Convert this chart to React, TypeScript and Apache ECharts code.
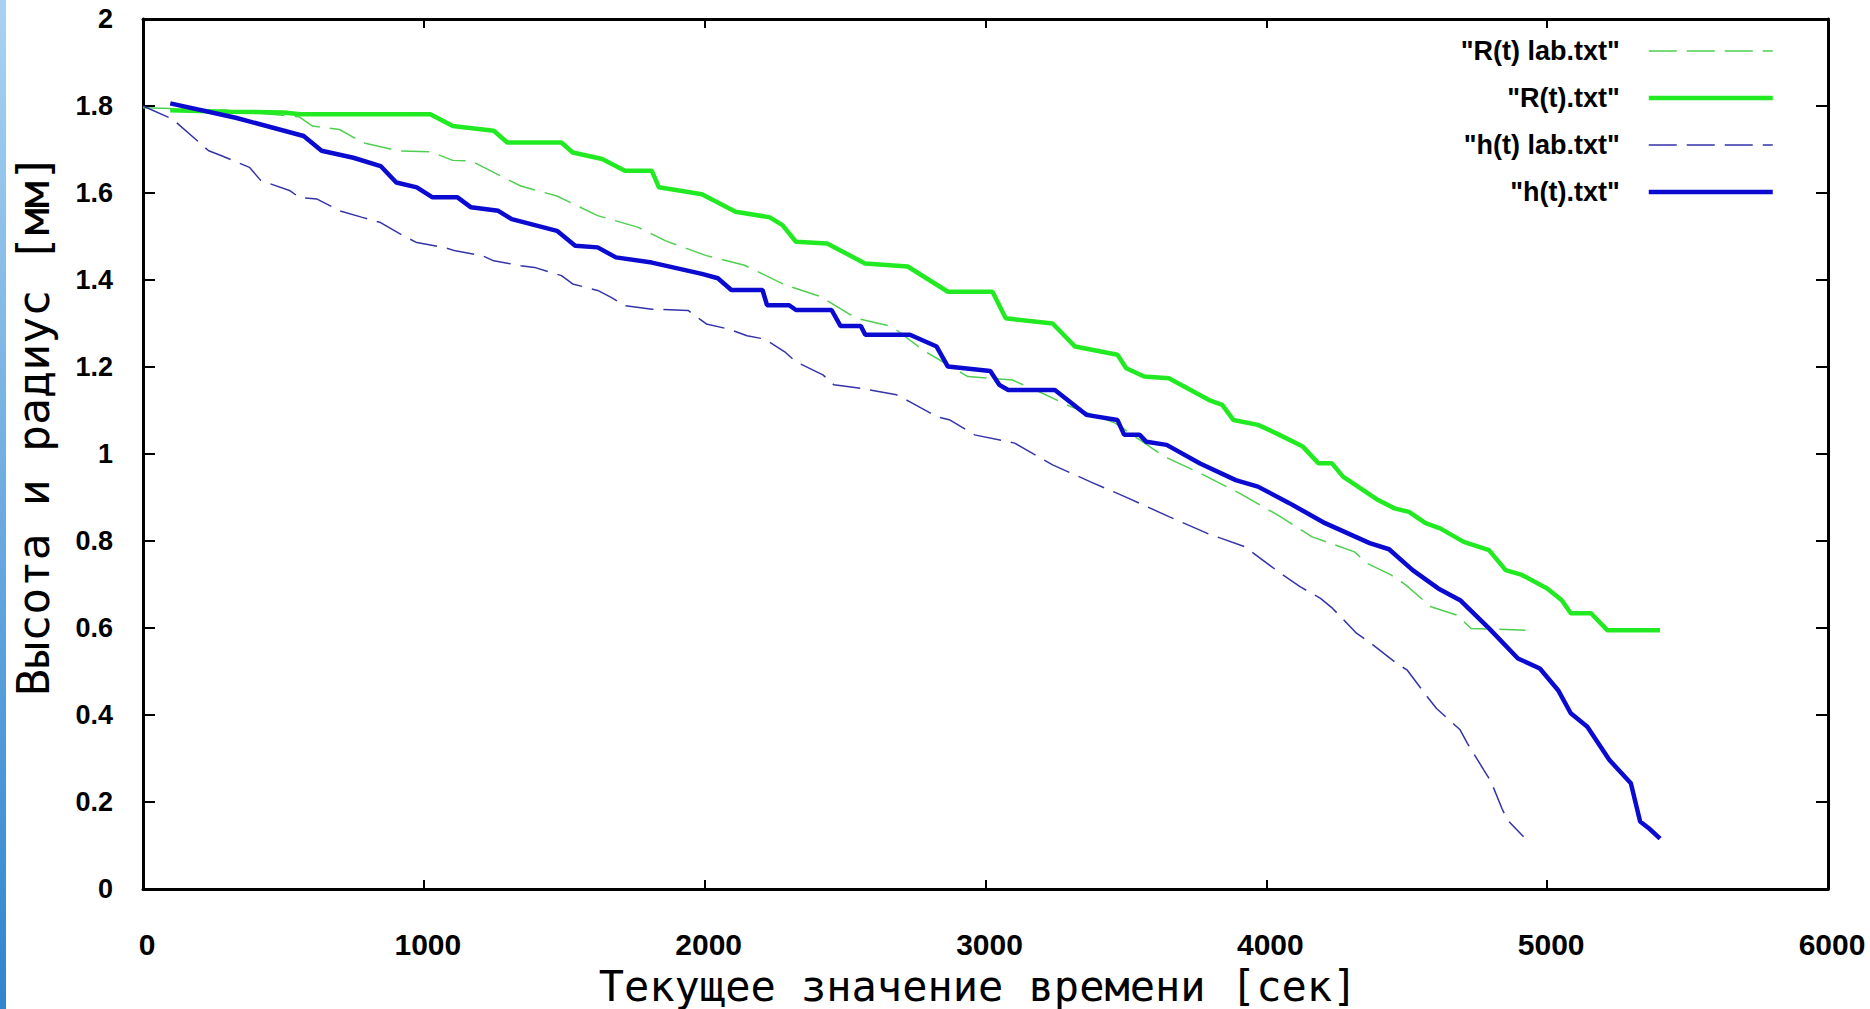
import React, { useEffect, useRef } from "react";
import * as echarts from "echarts";

// ---- data (time in seconds, value in mm) ----
const seriesNames = ['"R(t) lab.txt"', '"R(t).txt"', '"h(t) lab.txt"', '"h(t).txt"'];

const rLab: number[][] = [
  [0, 1.796], [300, 1.79], [556, 1.775], [604, 1.754], [700, 1.746], [781, 1.716], [910, 1.697],
  [1023, 1.695], [1103, 1.675], [1168, 1.674], [1345, 1.616], [1474, 1.593], [1619, 1.548],
  [1764, 1.521], [1861, 1.49], [2006, 1.456], [2142, 1.434], [2285, 1.389], [2412, 1.362],
  [2539, 1.312], [2667, 1.293], [2777, 1.239], [2937, 1.178], [3096, 1.17], [3191, 1.143],
  [3303, 1.109], [3462, 1.071], [3637, 0.994], [3764, 0.956], [3907, 0.909], [4050, 0.856],
  [4161, 0.81], [4314, 0.775], [4358, 0.749], [4444, 0.722], [4496, 0.699], [4586, 0.649],
  [4677, 0.63], [4729, 0.599], [4923, 0.595],
];

const rCalc: number[][] = [
  [97, 1.79], [300, 1.787], [500, 1.785], [560, 1.781], [1023, 1.781], [1103, 1.754], [1249, 1.743],
  [1297, 1.716], [1490, 1.716], [1530, 1.693], [1635, 1.678], [1716, 1.651], [1812, 1.651],
  [1837, 1.613], [1990, 1.597], [2110, 1.557], [2232, 1.544], [2277, 1.526], [2325, 1.488],
  [2436, 1.484], [2571, 1.438], [2723, 1.431], [2866, 1.373], [3025, 1.373], [3072, 1.312],
  [3239, 1.3], [3319, 1.247], [3470, 1.228], [3501, 1.197], [3565, 1.178], [3653, 1.174],
  [3796, 1.124], [3843, 1.113], [3883, 1.078], [3970, 1.067], [4034, 1.048], [4130, 1.017],
  [4185, 0.979], [4233, 0.979], [4273, 0.948], [4398, 0.894], [4456, 0.875], [4508, 0.867],
  [4567, 0.841], [4619, 0.829], [4703, 0.798], [4793, 0.779], [4852, 0.733], [4910, 0.722],
  [5000, 0.691], [5052, 0.664], [5084, 0.634], [5156, 0.634], [5214, 0.595], [5402, 0.595],
];

const hLab: number[][] = [
  [0, 1.8], [105, 1.77], [234, 1.697], [282, 1.685], [379, 1.659], [419, 1.629], [524, 1.605],
  [556, 1.59], [620, 1.586], [701, 1.559], [781, 1.544], [846, 1.532], [926, 1.502], [975, 1.486],
  [1071, 1.475], [1112, 1.467], [1208, 1.456], [1249, 1.444], [1345, 1.433], [1394, 1.429],
  [1490, 1.41], [1530, 1.391], [1619, 1.376], [1667, 1.36], [1716, 1.341], [1812, 1.333],
  [1941, 1.33], [2006, 1.299], [2086, 1.287], [2151, 1.272], [2215, 1.264], [2285, 1.235],
  [2325, 1.212], [2421, 1.182], [2460, 1.159], [2556, 1.151], [2683, 1.136], [2731, 1.12],
  [2826, 1.086], [2874, 1.078], [2961, 1.044], [3104, 1.025], [3239, 0.975], [3374, 0.936],
  [3510, 0.898], [3653, 0.856], [3788, 0.818], [3923, 0.787], [4050, 0.726], [4120, 0.695],
  [4193, 0.668], [4236, 0.645], [4321, 0.588], [4366, 0.568], [4463, 0.519], [4502, 0.503],
  [4573, 0.442], [4606, 0.415], [4690, 0.366], [4716, 0.335], [4774, 0.274], [4800, 0.247],
  [4839, 0.185], [4858, 0.159], [4916, 0.12],
];

const hCalc: number[][] = [
  [97, 1.806], [330, 1.773], [572, 1.731], [636, 1.697], [749, 1.681], [846, 1.662], [902, 1.624],
  [975, 1.613], [1031, 1.59], [1120, 1.59], [1168, 1.567], [1265, 1.559], [1313, 1.54],
  [1474, 1.513], [1539, 1.479], [1619, 1.475], [1684, 1.452], [1812, 1.44], [1990, 1.414],
  [2047, 1.404], [2095, 1.377], [2206, 1.377], [2222, 1.342], [2301, 1.342], [2325, 1.331],
  [2452, 1.331], [2484, 1.294], [2556, 1.294], [2572, 1.274], [2731, 1.274], [2826, 1.247],
  [2866, 1.201], [3017, 1.191], [3049, 1.159], [3081, 1.147], [3247, 1.147], [3359, 1.09],
  [3470, 1.078], [3494, 1.044], [3549, 1.044], [3573, 1.028], [3645, 1.021], [3764, 0.978],
  [3891, 0.94], [3970, 0.925], [4082, 0.887], [4209, 0.841], [4368, 0.795], [4437, 0.781],
  [4521, 0.733], [4612, 0.691], [4690, 0.664], [4793, 0.599], [4896, 0.53], [4974, 0.507],
  [5039, 0.457], [5084, 0.404], [5143, 0.373], [5221, 0.297], [5298, 0.243], [5331, 0.155],
  [5363, 0.139], [5402, 0.116],
];

const xTitle = "Текущее значение времени [сек]";
const yTitle = "Высота и радиус [мм]";

const W = 1870;
const H = 1009;

const tickFont = "'Liberation Sans', Arial, sans-serif";
const monoFont = "'DejaVu Sans Mono', monospace";

const colors = ["#4fcf4f", "#22ea22", "#3333aa", "#0a0ad0"];
const widths = [1.5, 4.5, 1.5, 4.5];
const dash = [28, 10];

export default function App() {
  const ref = useRef<HTMLDivElement>(null);

  useEffect(() => {
    if (!ref.current) return;
    const chart = echarts.init(ref.current, undefined, { renderer: "svg", width: W, height: H });

    const axisLine = { show: true, onZero: false, lineStyle: { color: "#000", width: 3 } };
    const xTick = { show: true, inside: true, length: 9, lineStyle: { color: "#000", width: 2 } };
    const yTick = { show: true, inside: true, length: 12, lineStyle: { color: "#000", width: 2 } };

    const datasets = [rLab, rCalc, hLab, hCalc];

    const option: any = {
      animation: false,
      backgroundColor: "#ffffff",
      grid: { left: 143, right: 42, top: 19, bottom: 120, containLabel: false },
      xAxis: [
        {
          type: "value", min: 0, max: 6000, interval: 1000, position: "bottom",
          axisLine, axisTick: xTick, splitLine: { show: false },
          axisLabel: {
            show: true, margin: 40, color: "#000", fontFamily: tickFont, fontWeight: "bold",
            fontSize: 30, padding: [0, 0, 0, 8], formatter: (v: number) => String(v),
          },
        },
        {
          type: "value", min: 0, max: 6000, interval: 1000, position: "top",
          axisLine, axisTick: xTick, splitLine: { show: false }, axisLabel: { show: false },
        },
      ],
      yAxis: [
        {
          type: "value", min: 0, max: 2, interval: 0.2, position: "left",
          axisLine, axisTick: yTick, splitLine: { show: false },
          axisLabel: {
            show: true, margin: 30, color: "#000", fontFamily: tickFont, fontWeight: "bold",
            fontSize: 27, padding: [12, 0, 0, 0], formatter: (v: number) => String(Math.round(v * 10) / 10),
          },
        },
        {
          type: "value", min: 0, max: 2, interval: 0.2, position: "right",
          axisLine, axisTick: yTick, splitLine: { show: false }, axisLabel: { show: false },
        },
      ],
      legend: {
        orient: "vertical", right: 95, top: 29, align: "right", padding: 0,
        itemWidth: 124, itemHeight: 20, itemGap: 3,
        itemStyle: { opacity: 0, borderWidth: 0 },
        textStyle: {
          fontFamily: tickFont, fontWeight: "bold", fontSize: 27, color: "#000",
          lineHeight: 30, padding: [14, 24, 0, 0],
        },
        data: seriesNames.map((n, i) => ({
          name: n,
          itemStyle: { opacity: 0, borderWidth: 0 },
          lineStyle: {
            color: colors[i], width: widths[i], type: widths[i] < 2 ? dash : "solid", opacity: 1,
          },
        })),
      },
      graphic: [
        {
          type: "rect", left: 0, top: 0, z: 100,
          shape: { x: 0, y: 0, width: 6, height: H },
          style: {
            fill: new echarts.graphic.LinearGradient(0, 0, 0, 1, [
              { offset: 0, color: "#a9d2f2" },
              { offset: 1, color: "#2f85cf" },
            ]),
          },
        },
        {
          type: "text", x: 978, y: 986, z: 100,
          style: {
            text: xTitle, fontFamily: monoFont, fontSize: 42, fill: "#000",
            textAlign: "center", textVerticalAlign: "middle",
          },
        },
        {
          type: "text", x: 33, y: 425, rotation: Math.PI / 2, z: 100,
          style: {
            text: yTitle, fontFamily: monoFont, fontSize: 45, fill: "#000",
            textAlign: "center", textVerticalAlign: "middle",
          },
        },
      ],
      series: datasets.map((d, i) => ({
        name: seriesNames[i], type: "line", data: d, symbol: "none", color: colors[i],
        lineStyle: { color: colors[i], width: widths[i], type: widths[i] < 2 ? dash : "solid" },
      })),
    };

    chart.setOption(option);
    return () => chart.dispose();
  }, []);

  return (
    <div
      ref={ref}
      style={{ position: "fixed", left: 0, top: 0, width: W, height: H, background: "#fff" }}
    />
  );
}
